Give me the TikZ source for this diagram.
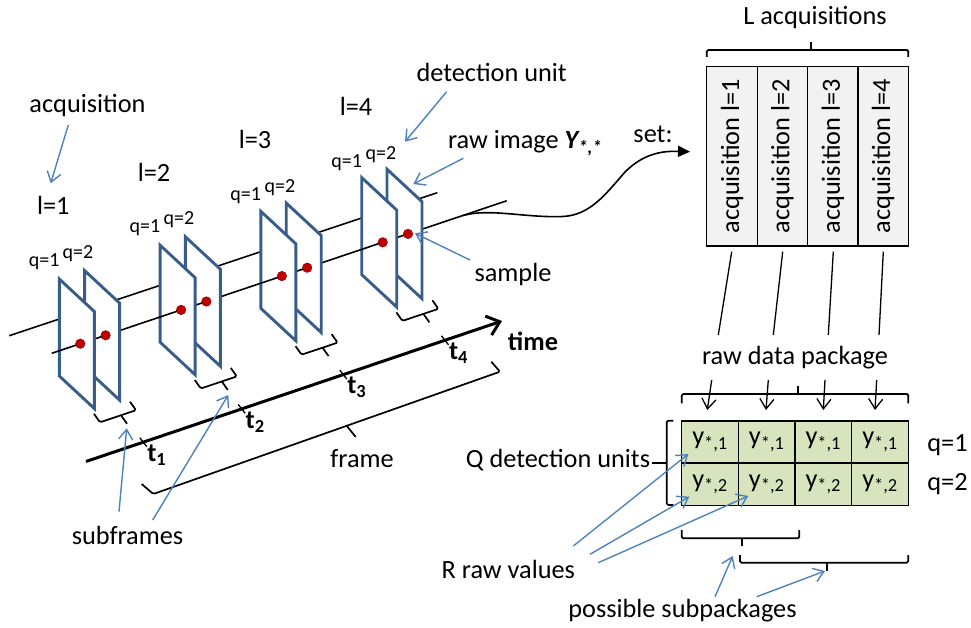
\documentclass[tikz,border=0pt]{standalone}
\usepackage{fontspec}
\setmainfont{Carlito}
\usepackage{graphicx}
\usetikzlibrary{arrows.meta,calc}

\definecolor{planeblue}{RGB}{56,93,138}
\definecolor{callblue}{RGB}{79,129,189}
\definecolor{dotred}{RGB}{192,0,0}
\definecolor{acqgray}{RGB}{242,242,242}
\definecolor{cellgreen}{RGB}{215,228,189}

\tikzset{
  lbl/.style={font=\fontsize{26.3}{31}\selectfont, inner sep=0pt},
  qlbl/.style={font=\fontsize{20}{24}\selectfont, inner sep=0pt},
  boldlbl/.style={font=\fontsize{26.3}{31}\selectfont\bfseries, inner sep=0pt},
  planeface/.style={draw=planeblue, line width=2.9pt, fill=white},
  ray/.style={draw=black, line width=1.6pt},
  sampledot/.style={circle, fill=dotred, draw=dotred!75!black, line width=0.5pt,
    minimum size=9.5pt, inner sep=0pt},
  callout/.style={draw=callblue, line width=1.4pt, -{Straight Barb[length=10pt,width=14pt]}},
  feed/.style={draw=black, line width=1.3pt, -{Straight Barb[length=10pt,width=14pt]}},
  brace/.style={draw=black, line width=1.7pt, rounded corners=1.5pt},
  tick/.style={draw=black, line width=1.3pt},
  timeaxis/.style={draw=black, line width=3pt, -{Straight Barb[length=12pt,width=20pt]}},
  acqcol/.style={draw=black, line width=1.3pt, fill=acqgray, minimum width=50.4pt,
    minimum height=179.3pt, inner sep=0pt, font=\fontsize{26.3}{31}\selectfont},
  datacell/.style={draw=black, line width=1.3pt, fill=cellgreen, minimum width=56.7pt,
    minimum height=42.2pt, inner sep=0pt, font=\fontsize{26.3}{31}\selectfont},
  plane/.pic={\path[planeface] (0,0) -- (35,32.5) -- (35,129.5) -- (0,97) -- cycle;},
  subbrace/.pic={\path[brace] (-6,-8.5) -- (0,0) -- (21,-7.04) -- (36,-12.06) -- (30,-20.56);
                 \path[brace] (21,-7.04) -- (27,1.46);},
}

\begin{document}
\begin{tikzpicture}[x=1pt,y=-1pt]
\useasboundingbox (0,0) rectangle (971,628);

% ---------- detection units: top-left corners (acquisition l, unit q)
\coordinate (tl11) at (59.3,279);
\coordinate (tl12) at (84.6,270.6);
\coordinate (tl21) at (160.1,245.2);
\coordinate (tl22) at (185.4,236.8);
\coordinate (tl31) at (260.9,211.4);
\coordinate (tl32) at (286.2,203);
\coordinate (tl41) at (361.7,177.6);
\coordinate (tl42) at (387,169.2);
\foreach \n in {11,12,21,22,31,32,41,42}
  \coordinate (d\n) at ($(tl\n)+(21,64.7)$);

% ---------- rays, drawn back to front with the units
\coordinate (upstart) at (9.3,335.7);
\coordinate (upend) at (437.3,192.7);
\coordinate (lowstart) at (51.7,353.3);
\coordinate (lowend) at (506.7,200.8);
\draw[ray] (upstart) -- (upend);
\draw[ray] (d42) -- (lowend);
\pic at (tl42) {plane};
\draw[ray] (d41) -- (d42);
\pic at (tl41) {plane};
\draw[ray] (d32) -- (d41);
\pic at (tl32) {plane};
\draw[ray] (d31) -- (d32);
\pic at (tl31) {plane};
\draw[ray] (d22) -- (d31);
\pic at (tl22) {plane};
\draw[ray] (d21) -- (d22);
\pic at (tl21) {plane};
\draw[ray] (d12) -- (d21);
\pic at (tl12) {plane};
\draw[ray] (d11) -- (d12);
\pic at (tl11) {plane};
\draw[ray] (lowstart) -- (d11);
\foreach \n in {11,12,21,22,31,32,41,42}
  \node[sampledot] (s\n) at (d\n) {};

% ---------- subframe braces
\foreach \x/\y in {100/422.3, 200.8/388.5, 301.6/354.7, 402.4/320.9}
  \pic at (\x,\y) {subbrace};

% ---------- time axis
\coordinate (tstart) at (86,461.5);
\coordinate (tend) at (502,321);
\draw[timeaxis] (tstart) -- (tend);
\foreach \k/\x/\y in {1/143.3/442.2, 2/241.7/408.9, 3/343.3/374.6, 4/445/340.3}{
  \coordinate (tick\k) at (\x,\y);
  \draw[tick] ($(tick\k)+(-3.5,-4.5)$) -- ($(tick\k)+(3.5,4.5)$);
  \node[boldlbl] (t\k) at ($(tick\k)+(13.5,13)$) {t\textsubscript{\k}};
}
\node[boldlbl] (timelbl) at (533,341) {time};

% ---------- frame brace
\draw[brace] (141.7,484) -- (153.3,494) -- (346.7,425.8) -- (500,371.7) -- (491.3,361.7);
\draw[brace] (346.7,425.8) -- (355.7,437);
\node[lbl] (framelbl) at (362,459) {frame};

% ---------- labels on the left
\node[lbl] (acqlbl) at (87.5,106) {acquisition};
\node[lbl] (l1) at (53.3,205) {l=1};
\node[lbl] (l2) at (154,172.5) {l=2};
\node[lbl] (l3) at (255,139) {l=3};
\node[lbl] (l4) at (356,106.7) {l=4};
\node[qlbl] (q11) at (44.3,262) {q=1};
\node[qlbl] (q12) at (78,254) {q=2};
\node[qlbl] (q21) at (145,228) {q=1};
\node[qlbl] (q22) at (179,220) {q=2};
\node[qlbl] (q31) at (245.7,196) {q=1};
\node[qlbl] (q32) at (280,187.5) {q=2};
\node[qlbl] (q41) at (346.7,163) {q=1};
\node[qlbl] (q42) at (381,155) {q=2};
\node[lbl] (detlbl) at (491.7,72) {detection unit};
\node[lbl] (rawlbl) at (525,143) {raw image {\bfseries\itshape Y\textsubscript{*,*}}};
\node[lbl] (samplbl) at (513,274) {sample};
\node[lbl] (subflbl) at (127.5,535) {subframes};

% callout arrows on the left
\coordinate (acqfrom) at (68.3,125);   \coordinate (acqto) at (50.7,183.3);
\coordinate (detfrom) at (446.7,91.7); \coordinate (detto) at (405,141.7);
\coordinate (rawfrom) at (463.3,158.3);\coordinate (rawto) at (413.3,184);
\coordinate (smpfrom) at (470,260);    \coordinate (smpto) at (415,233.3);
\coordinate (sf1from) at (119,511.7);  \coordinate (sf1to) at (126.7,428.3);
\coordinate (sf2from) at (152.7,520);  \coordinate (sf2to) at (228.3,395);
\draw[callout] (acqfrom) -- (acqto);
\draw[callout] (detfrom) -- (detto);
\draw[callout] (rawfrom) -- (rawto);
\draw[callout] (smpfrom) -- (smpto);
\draw[callout] (sf1from) -- (sf1to);
\draw[callout] (sf2from) -- (sf2to);

% ---------- set of acquisitions
\node[lbl] (setlbl) at (653,134) {set:};
\node[lbl] (Lacq) at (815,18) {L acquisitions};
\node[acqcol] (a1) at (732,156.3) {\rotatebox{90}{acquisition l=1}};
\node[acqcol] (a2) at (782.4,156.3) {\rotatebox{90}{acquisition l=2}};
\node[acqcol] (a3) at (832.8,156.3) {\rotatebox{90}{acquisition l=3}};
\node[acqcol] (a4) at (883.2,156.3) {\rotatebox{90}{acquisition l=4}};
\draw[brace] (706.7,57) -- (706.7,50) -- (810.7,50) -- (908.3,50) -- (908.3,57);
\draw[brace] (810.7,50) -- (810.7,42);

% curve from the ray to the set
\coordinate (curvestart) at (463,215.5);
\coordinate (curveend) at (690,151.7);
\draw[black, line width=1.6pt, -{Triangle[length=12pt,width=11pt]}]
  (curvestart) .. controls (490,208) and (525,218) .. (563,216.5)
  .. controls (590,215) and (605,195) .. (625,172)
  .. controls (645,152) and (665,151) .. (curveend);

% ---------- raw data package
\node[lbl] (pkglbl) at (795,358) {raw data package};
\foreach \i/\xa/\xb in {1/731.7/718.3, 2/782.7/773.3, 3/833.3/828.3, 4/883.3/879}{
  \coordinate (colfoot\i) at (\xa,251.7);
  \coordinate (pkgtop\i) at (\xb,335);
  \draw[ray, line width=1.3pt] (colfoot\i) -- (pkgtop\i);
}
\draw[brace] (681.7,403.3) -- (681.7,394) -- (798.3,394) -- (908.3,394) -- (908.3,403.3);
\draw[brace] (798.3,394) -- (798.3,385.5);
\foreach \i/\xa/\xb in {1/711.7/707.3, 2/768.3/766, 3/825/823.3, 4/876.7/875}{
  \coordinate (pkgfrom\i) at (\xa,380);
  \coordinate (pkgto\i) at (\xb,410);
  \draw[feed] (pkgfrom\i) -- (pkgto\i);
}
\foreach \c/\x in {1/710,2/766.7,3/823.3,4/880}{
  \node[datacell] (c1\c) at (\x,442) {y\textsubscript{*,1}};
  \node[datacell] (c2\c) at (\x,484.2) {y\textsubscript{*,2}};
}
\node[lbl] (qr1) at (947.5,445) {q=1};
\node[lbl] (qr2) at (947.5,484) {q=2};

% Q detection units
\node[lbl] (Qlbl) at (558,460) {Q detection units};
\draw[brace] (673.3,420.7) -- (666.7,420.7) -- (666.7,463) -- (666.7,505) -- (673.3,505);
\draw[brace] (666.7,463) -- (652,463);

% R raw values
\node[lbl] (Rlbl) at (508.3,569) {R raw values};
\coordinate (r1from) at (573.3,546);  \coordinate (r1to) at (688.3,454);
\coordinate (r2from) at (590,554.3);  \coordinate (r2to) at (689.3,496.7);
\coordinate (r3from) at (598.3,562.7);\coordinate (r3to) at (748.3,496);
\draw[callout] (r1from) -- (r1to);
\draw[callout] (r2from) -- (r2to);
\draw[callout] (r3from) -- (r3to);

% possible subpackages
\draw[brace] (681.7,530) -- (681.7,538.3) -- (741.7,538.3) -- (799.3,538.3) -- (799.3,530);
\draw[brace] (741.7,538.3) -- (741.7,546);
\draw[brace] (740,555) -- (740,562.7) -- (826.7,562.7) -- (908.3,562.7) -- (908.3,555);
\draw[brace] (826.7,562.7) -- (826.7,571);
\node[lbl] (sublbl) at (682.5,611) {possible subpackages};
\coordinate (sp1from) at (715,596.7);   \coordinate (sp1to) at (732.7,556);
\coordinate (sp2from) at (756.7,596.7); \coordinate (sp2to) at (825,571);
\draw[callout] (sp1from) -- (sp1to);
\draw[callout] (sp2from) -- (sp2to);
\end{tikzpicture}
\end{document}
